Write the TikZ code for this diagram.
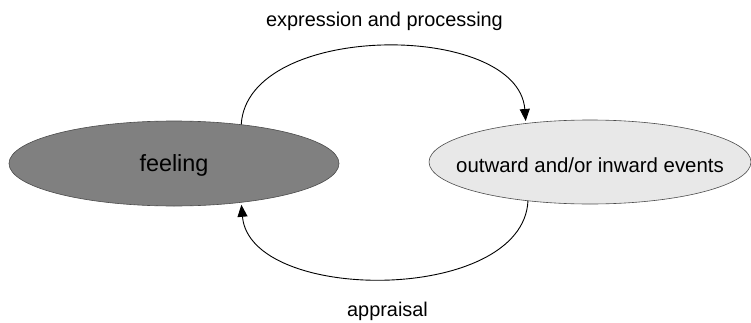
\documentclass[tikz,border=0pt]{standalone}
\usepackage{fontspec}
\setmainfont{Liberation Sans}
\usetikzlibrary{arrows.meta,shapes.geometric}
\begin{document}
\begin{tikzpicture}[x=1pt,y=1pt,
  state/.style={ellipse, draw=black!70, line width=0.6pt, inner sep=0pt, outer sep=0pt},
  statetext/.style={anchor=base, inner sep=0pt},
  flow/.style={draw=black, line width=0.9pt, -{Triangle[length=12pt,width=10pt]}, shorten >=2.5pt},
  caption/.style={anchor=base, inner sep=0pt, font=\fontsize{19.9}{24}\selectfont}]
  \useasboundingbox (0,0) rectangle (751,322);

  % the two states, names set on the centre of each ellipse
  \node[state, fill=black!50, minimum width=330pt, minimum height=85pt,
        label={[statetext, yshift=-2pt, font=\fontsize{23.4}{28}\selectfont]center:feeling}]
        (feel) at (174,158.5) {};
  \node[state, fill=black!9, minimum width=322pt, minimum height=84pt,
        label={[statetext, yshift=-3pt, font=\fontsize{20.4}{24}\selectfont]center:outward and/or inward events}]
        (ev) at (590,160) {};

  % upper arc: feeling -> events
  \draw[flow] (feel.30.6) .. controls (247,301) and (518,301) .. (ev.149.4);
  % lower arc: events -> feeling
  \draw[flow] (ev.212) .. controls (523,18) and (250,18) .. (feel.330.4);

  % arc labels
  \node[caption] (lbltop) at (384.5,295) {expression and processing};
  \node[caption] (lblbot) at (387.5,5.3) {appraisal};
\end{tikzpicture}
\end{document}
